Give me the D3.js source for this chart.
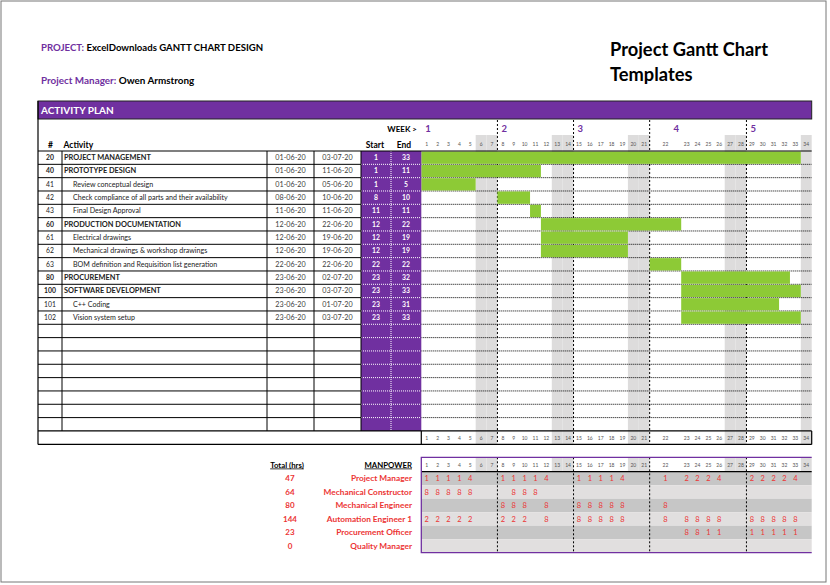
<!DOCTYPE html>
<html>
<head>
<meta charset="utf-8">
<script src="https://cdn.jsdelivr.net/npm/d3@7"></script>
<style>
  body { margin: 0; background: #fff; }
  svg { display: block; font-family: Lato, "Open Sans", sans-serif; }
</style>
</head>
<body>
<svg id="chart" width="830" height="585"></svg>
<script>
// ---- data ----
const taskIds = [20, 40, 41, 42, 43, 60, 61, 62, 63, 80, 100, 101, 102];
const taskNames = [
  "PROJECT MANAGEMENT", "PROTOTYPE DESIGN", "Review conceptual design",
  "Check compliance of all parts and their availability", "Final Design Approval",
  "PRODUCTION DOCUMENTATION", "Electrical drawings", "Mechanical drawings & workshop drawings",
  "BOM definition and Requisition list generation", "PROCUREMENT", "SOFTWARE DEVELOPMENT",
  "C++ Coding", "Vision system setup"
];
const taskIsGroup = [true, true, false, false, false, true, false, false, false, true, true, false, false];
const startDates = ["01-06-20", "01-06-20", "01-06-20", "08-06-20", "11-06-20", "12-06-20", "12-06-20",
  "12-06-20", "22-06-20", "23-06-20", "23-06-20", "23-06-20", "23-06-20"];
const endDates = ["03-07-20", "11-06-20", "05-06-20", "10-06-20", "11-06-20", "22-06-20", "19-06-20",
  "19-06-20", "22-06-20", "02-07-20", "03-07-20", "01-07-20", "03-07-20"];
const startDays = [1, 1, 1, 8, 11, 12, 12, 12, 22, 23, 23, 23, 23];
const endDays = [33, 11, 5, 10, 11, 22, 19, 19, 22, 32, 33, 31, 33];

const days = [1, 2, 3, 4, 5, 6, 7, 8, 9, 10, 11, 12, 13, 14, 15, 16, 17, 18, 19, 20, 21, 22,
  23, 24, 25, 26, 27, 28, 29, 30, 31, 32, 33, 34];
const weekendDays = [6, 7, 13, 14, 20, 21, 27, 28, 34];
const weeks = [1, 2, 3, 4, 5];
const weekFirstDays = [1, 8, 15, 22, 29];

const roles = ["Project Manager", "Mechanical Constructor", "Mechanical Engineer",
  "Automation Engineer 1", "Procurement Officer", "Quality Manager"];
const roleTotals = [47, 64, 80, 144, 23, 0];
// hours per day 1..34 (null = empty cell)
const _ = null;
const pmHours = [1, 1, 1, 1, 4, _, _, 1, 1, 1, 1, 4, _, _, 1, 1, 1, 1, 4, _, _, 1, 2, 2, 2, 4, _, _, 2, 2, 2, 2, 4, _];
const mcHours = [8, 8, 8, 8, 8, _, _, _, 8, 8, 8, _, _, _, _, _, _, _, _, _, _, _, _, _, _, _, _, _, _, _, _, _, _, _];
const meHours = [_, _, _, _, _, _, _, 8, 8, 8, _, 8, _, _, 8, 8, 8, 8, 8, _, _, 8, _, _, _, _, _, _, _, _, _, _, _, _];
const aeHours = [2, 2, 2, 2, 2, _, _, 2, 2, 2, _, 8, _, _, 8, 8, 8, 8, 8, _, _, 8, 8, 8, 8, 8, _, _, 8, 8, 8, 8, 8, _];
const poHours = [_, _, _, _, _, _, _, _, _, _, _, _, _, _, _, _, _, _, _, _, _, _, 8, 8, 1, 1, _, _, 1, 1, 1, 1, 1, _];
const qmHours = [_, _, _, _, _, _, _, _, _, _, _, _, _, _, _, _, _, _, _, _, _, _, _, _, _, _, _, _, _, _, _, _, _, _];
const roleHours = [pmHours, mcHours, meHours, aeHours, poHours, qmHours];

// ---- look ----
const purple = "#7030a0", green = "#8dca36", weekendGrey = "#dddcdc", red = "#ec3434";
const svg = d3.select("#chart");

// frame round the sheet
svg.append("rect").attr("x", 1).attr("y", 1).attr("width", 825).attr("height", 581)
  .attr("fill", "none").attr("stroke", "#777");

// ---- header ----
const h1 = svg.append("text").attr("x", 41).attr("y", 51).attr("font-size", 9.6).attr("font-weight", "bold");
h1.append("tspan").attr("fill", purple).text("PROJECT: ");
h1.append("tspan").attr("fill", "#000").text("ExcelDownloads GANTT CHART DESIGN");
const h2 = svg.append("text").attr("x", 41).attr("y", 84).attr("font-size", 9.9).attr("font-weight", "bold");
h2.append("tspan").attr("fill", purple).text("Project Manager: ");
h2.append("tspan").attr("fill", "#000").text("Owen Armstrong");

svg.append("text").attr("x", 610).attr("y", 56).attr("font-size", 18.3).attr("font-weight", "bold")
  .text("Project Gantt Chart");
svg.append("text").attr("x", 610).attr("y", 81).attr("font-size", 18.3).attr("font-weight", "bold")
  .text("Templates");

svg.append("rect").attr("x", 38).attr("y", 101).attr("width", 773.7).attr("height", 18)
  .attr("fill", purple).attr("stroke", "#222").attr("stroke-width", 1);
svg.append("text").attr("x", 41).attr("y", 113.5).attr("fill", "#fff").attr("font-size", 10)
  .attr("font-weight", "bold").text("ACTIVITY PLAN");

// ---- scales ----
const ganttLeft = 421.3, ganttRight = 811.7;
const wideDay = 22, wideFactor = 2.9;   // day 22 sits in a wider column
const cum = [0];
days.forEach((d, i) => cum.push(cum[i] + (d === wideDay ? wideFactor : 1)));
const xu = d3.scaleLinear().domain([0, cum[cum.length - 1]]).range([ganttLeft, ganttRight]);
const dayX0 = d => xu(cum[d - 1]);
const dayX1 = d => xu(cum[d]);
const dayMid = d => (dayX0(d) + dayX1(d)) / 2;

const nRows = taskIds.length + 8;
const tableTop = 151, rowH = 13.33;
const y = d3.scaleBand().domain(d3.range(nRows)).range([tableTop, tableTop + nRows * rowH]);
const tableBottom = tableTop + nRows * rowH;
const footBottom = tableBottom + 13.5;

const colX = [38, 62, 267, 314, 361, 391, 421.3];

const g = svg.append("g");

// weekend columns
g.selectAll("rect.we").data(weekendDays).join("rect").attr("class", "we")
  .attr("x", d => dayX0(d)).attr("width", d => dayX1(d) - dayX0(d))
  .attr("y", 135).attr("height", footBottom - 135).attr("fill", weekendGrey);

// dotted row lines in gantt
const rowEdges = d3.range(1, nRows).map(i => y(i));
g.selectAll("line.dot").data(rowEdges).join("line").attr("class", "dot")
  .attr("x1", ganttLeft).attr("x2", ganttRight).attr("y1", d => d).attr("y2", d => d)
  .attr("stroke", "#000").attr("stroke-width", 1).attr("stroke-dasharray", "1,1");

// week boundaries
const weekLines = weekFirstDays.slice(1).map(d => dayX0(d));
g.selectAll("line.wk").data(weekLines).join("line").attr("class", "wk")
  .attr("x1", d => d).attr("x2", d => d).attr("y1", 120).attr("y2", footBottom)
  .attr("stroke", "#000").attr("stroke-width", 1).attr("stroke-dasharray", "2,2");

// bars
g.selectAll("rect.bar").data(taskIds).join("rect").attr("class", "bar")
  .attr("x", (d, i) => dayX0(startDays[i])).attr("width", (d, i) => dayX1(endDays[i]) - dayX0(startDays[i]))
  .attr("y", (d, i) => y(i) + 0.5).attr("height", y.bandwidth() - 1).attr("fill", green);

// purple start/end columns
g.append("rect").attr("x", colX[4]).attr("y", tableTop).attr("width", colX[6] - colX[4])
  .attr("height", tableBottom - tableTop).attr("fill", purple);
g.append("line").attr("x1", colX[5]).attr("x2", colX[5]).attr("y1", tableTop).attr("y2", tableBottom)
  .attr("stroke", "#fff").attr("stroke-dasharray", "1,1");
g.selectAll("line.pw").data(rowEdges).join("line").attr("class", "pw")
  .attr("x1", colX[4]).attr("x2", colX[6]).attr("y1", d => d).attr("y2", d => d)
  .attr("stroke", "#fff").attr("stroke-dasharray", "1,1");

// solid table grid on the left
g.selectAll("line.hr").data(rowEdges).join("line").attr("class", "hr")
  .attr("x1", colX[0]).attr("x2", colX[4]).attr("y1", d => d).attr("y2", d => d)
  .attr("stroke", "#000");
g.selectAll("line.vr").data(colX.slice(1, 5)).join("line").attr("class", "vr")
  .attr("x1", d => d).attr("x2", d => d).attr("y1", tableTop).attr("y2", tableBottom)
  .attr("stroke", "#000");
const solid = [[colX[0], 101, colX[0], footBottom], [colX[0], tableTop, ganttRight, tableTop],
  [colX[0], tableBottom, ganttRight, tableBottom], [colX[0], footBottom, ganttRight, footBottom],
  [ganttLeft, tableBottom, ganttLeft, footBottom], [ganttRight, tableBottom, ganttRight, footBottom]];
g.selectAll("line.sl").data(solid).join("line").attr("class", "sl")
  .attr("x1", d => d[0]).attr("y1", d => d[1]).attr("x2", d => d[2]).attr("y2", d => d[3])
  .attr("stroke", "#000").attr("stroke-width", 1.2);

// header labels
g.append("text").attr("x", 417).attr("y", 132).attr("text-anchor", "end").attr("font-size", 8)
  .attr("font-weight", "bold").text("WEEK >");
g.selectAll("text.wkl").data(weeks).join("text").attr("class", "wkl")
  .attr("x", (d, i) => weekFirstDays[i] === wideDay ? dayMid(wideDay) + 8 : dayX0(weekFirstDays[i]) + 4)
  .attr("y", 132).attr("fill", purple).attr("font-size", 9.5).attr("font-weight", "bold").text(d => d);
g.append("text").attr("x", 48).attr("y", 148).attr("font-size", 8.5).attr("font-weight", "bold").text("#");
g.append("text").attr("x", 63.5).attr("y", 148).attr("font-size", 8.5).attr("font-weight", "bold").text("Activity");
g.append("text").attr("x", 375).attr("y", 148).attr("text-anchor", "middle").attr("font-size", 8.5)
  .attr("font-weight", "bold").text("Start");
g.append("text").attr("x", 404).attr("y", 148).attr("text-anchor", "middle").attr("font-size", 8.5)
  .attr("font-weight", "bold").text("End");

// day numbers, top and bottom
[145.5, tableBottom + 9.5].forEach(yy => {
  g.append("g").selectAll("text").data(days).join("text")
    .attr("x", d => dayMid(d)).attr("y", yy).attr("text-anchor", "middle")
    .attr("font-size", 5).attr("fill", "#555").text(d => d);
});

// table rows
const ty = i => y(i) + y.bandwidth() / 2 + 2.5;
const rows = g.append("g").selectAll("g").data(taskIds).join("g");
rows.append("text").attr("x", 50).attr("y", (d, i) => ty(i)).attr("text-anchor", "middle")
  .attr("font-size", 6.8).attr("font-weight", (d, i) => taskIsGroup[i] ? "bold" : "normal")
  .attr("fill", "#222").text(d => d);
rows.append("text").attr("x", (d, i) => taskIsGroup[i] ? 64 : 73).attr("y", (d, i) => ty(i))
  .attr("font-size", (d, i) => taskIsGroup[i] ? 7.4 : 7.1)
  .attr("font-weight", (d, i) => taskIsGroup[i] ? "bold" : "normal")
  .attr("fill", "#222").text((d, i) => taskNames[i]);
rows.append("text").attr("x", 290.5).attr("y", (d, i) => ty(i)).attr("text-anchor", "middle")
  .attr("font-size", 7.2).attr("fill", "#404040").text((d, i) => startDates[i]);
rows.append("text").attr("x", 337.5).attr("y", (d, i) => ty(i)).attr("text-anchor", "middle")
  .attr("font-size", 7.2).attr("fill", "#404040").text((d, i) => endDates[i]);
rows.append("text").attr("x", 376).attr("y", (d, i) => ty(i)).attr("text-anchor", "middle")
  .attr("font-size", 6.8).attr("font-weight", "bold").attr("fill", "#fff").text((d, i) => startDays[i]);
rows.append("text").attr("x", 406).attr("y", (d, i) => ty(i)).attr("text-anchor", "middle")
  .attr("font-size", 6.8).attr("font-weight", "bold").attr("fill", "#fff").text((d, i) => endDays[i]);

// ---- manpower ----
const mpTop = 457.3, mpHeadBottom = 471.7, mpBottom = 552.7;
const ym = d3.scaleBand().domain(roles).range([mpHeadBottom, mpBottom]);
const mp = svg.append("g");

mp.selectAll("rect.mrow").data(roles).join("rect").attr("class", "mrow")
  .attr("x", ganttLeft).attr("width", ganttRight - ganttLeft)
  .attr("y", d => ym(d)).attr("height", ym.bandwidth())
  .attr("fill", (d, i) => i % 2 === 0 ? "#c6c6c6" : "#e1dfdf");
mp.selectAll("rect.mwe").data(weekendDays).join("rect").attr("class", "mwe")
  .attr("x", d => dayX0(d)).attr("width", d => dayX1(d) - dayX0(d))
  .attr("y", mpTop).attr("height", mpHeadBottom - mpTop).attr("fill", weekendGrey);
mp.selectAll("text.mday").data(days).join("text").attr("class", "mday")
  .attr("x", d => dayMid(d)).attr("y", mpTop + 9.5).attr("text-anchor", "middle")
  .attr("font-size", 5).attr("fill", "#555").text(d => d);
mp.selectAll("line.mwk").data(weekLines).join("line").attr("class", "mwk")
  .attr("x1", d => d).attr("x2", d => d).attr("y1", mpTop).attr("y2", mpBottom)
  .attr("stroke", "#000").attr("stroke-dasharray", "2,2");
mp.append("line").attr("x1", ganttLeft).attr("x2", ganttRight).attr("y1", mpHeadBottom).attr("y2", mpHeadBottom)
  .attr("stroke", "#000").attr("stroke-width", 1.2);
mp.append("path")
  .attr("d", `M${ganttRight},${mpTop}H${ganttLeft}V${mpBottom}H${ganttRight}`)
  .attr("fill", "none").attr("stroke", purple).attr("stroke-width", 1.3);

const cells = [];
roleHours.forEach((hrs, r) => hrs.forEach((v, i) => { if (v !== null) cells.push({ role: roles[r], day: days[i], v }); }));
mp.selectAll("text.hr").data(cells).join("text").attr("class", "hr")
  .attr("x", d => dayMid(d.day)).attr("y", d => ym(d.role) + ym.bandwidth() / 2 + 2.7)
  .attr("text-anchor", "middle").attr("font-size", 7.5).attr("fill", red).text(d => d.v);

const mty = d => ym(d) + ym.bandwidth() / 2 + 2.8;
mp.selectAll("text.role").data(roles).join("text").attr("class", "role")
  .attr("x", 412).attr("y", d => mty(d)).attr("text-anchor", "end")
  .attr("font-size", 8.3).attr("font-weight", "bold").attr("fill", red).text(d => d);
mp.selectAll("text.tot").data(roles).join("text").attr("class", "tot")
  .attr("x", 290).attr("y", d => mty(d)).attr("text-anchor", "middle")
  .attr("font-size", 8).attr("font-weight", "bold").attr("fill", red).text((d, i) => roleTotals[i]);
mp.append("text").attr("x", 287).attr("y", 467.5).attr("text-anchor", "middle").attr("font-size", 7.8)
  .attr("font-weight", "bold").attr("text-decoration", "underline").text("Total (hrs)");
mp.append("text").attr("x", 412).attr("y", 467.5).attr("text-anchor", "end").attr("font-size", 7.8)
  .attr("font-weight", "bold").attr("text-decoration", "underline").text("MANPOWER");
</script>
</body>
</html>
